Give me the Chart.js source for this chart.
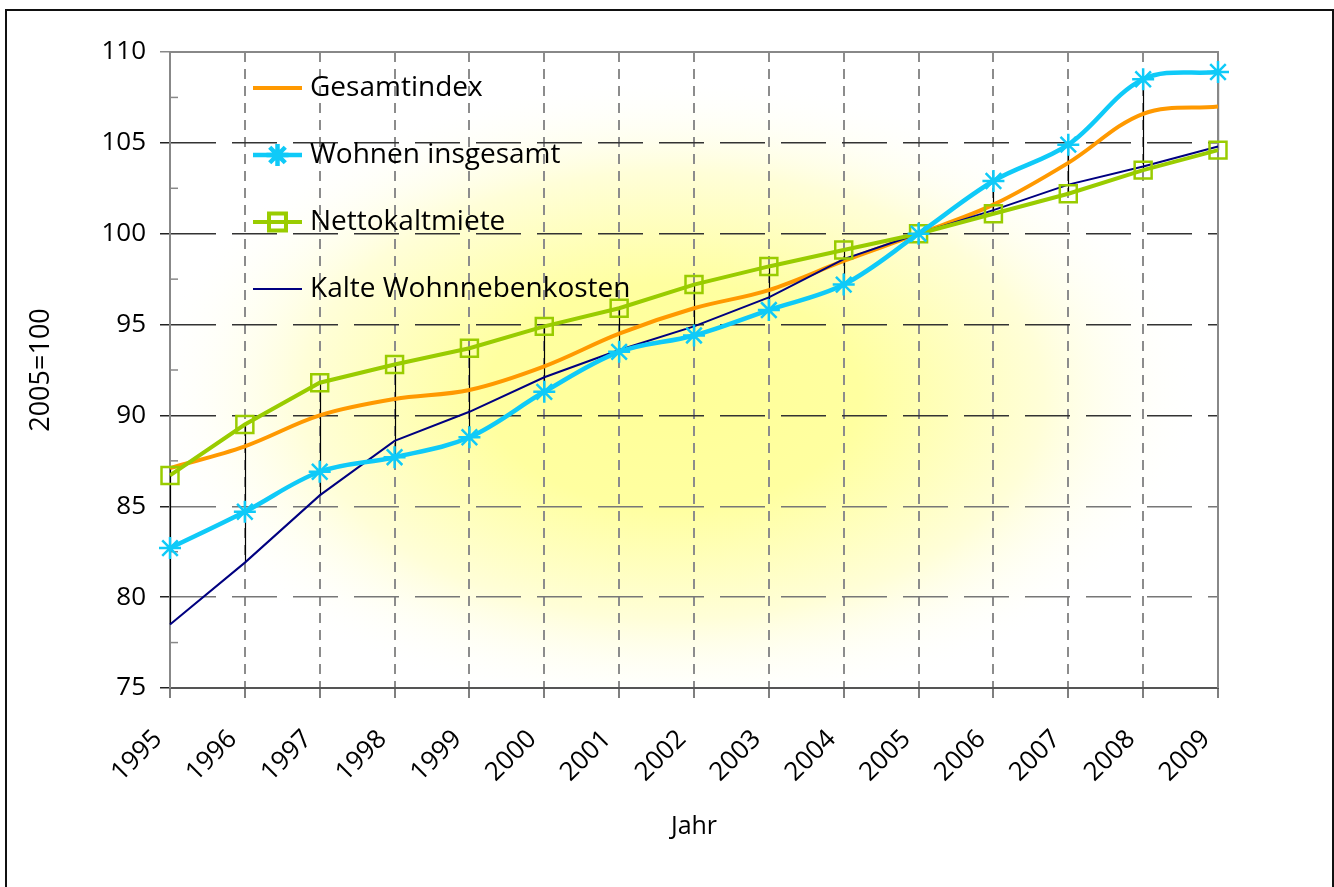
<!DOCTYPE html>
<html>
<head>
<meta charset="utf-8">
<script src="https://cdn.jsdelivr.net/npm/chart.js@4/dist/chart.umd.min.js"></script>
<style>
    html, body { margin: 0; padding: 0; background: #fff; }
    #wrap { position: relative; width: 1334px; height: 887px; overflow: hidden; }
    #frame { position: absolute; left: 5px; top: 9px; width: 1329px; height: 900px; border: 2px solid #111; box-sizing: border-box; }
    canvas { position: absolute; left: 0; top: 0; }
</style>
</head>
<body>
<div id="wrap">
    <div id="frame"></div>
    <canvas id="chart" width="1334" height="887"></canvas>
</div>
<script>
// ---- data (2005 = 100) ----
const years = ["1995", "1996", "1997", "1998", "1999", "2000", "2001", "2002",
               "2003", "2004", "2005", "2006", "2007", "2008", "2009"];
const gesamtindex      = [87.1, 88.3, 90.0, 90.9, 91.4, 92.7, 94.5, 95.9, 96.9, 98.5, 100, 101.6, 103.9, 106.6, 107.0];
const wohnenInsgesamt  = [82.7, 84.7, 86.9, 87.7, 88.8, 91.3, 93.5, 94.4, 95.8, 97.2, 100, 102.9, 104.9, 108.5, 108.9];
const nettokaltmiete   = [86.7, 89.5, 91.8, 92.8, 93.7, 94.9, 95.9, 97.2, 98.2, 99.1, 100, 101.1, 102.2, 103.5, 104.6];
const kalteNebenkosten = [78.5, 81.9, 85.6, 88.6, 90.2, 92.1, 93.6, 94.9, 96.5, 98.6, 100, 101.3, 102.7, 103.7, 104.8];
const yMin = 75, yMax = 110, yStep = 5;

const FONT = "'Open Sans', 'Noto Sans', sans-serif";

// yellow glow behind the plot
const glowPlugin = {
    id: "glow",
    beforeDraw(chart) {
        const { ctx, chartArea: a } = chart;
        ctx.save();
        ctx.beginPath();
        ctx.rect(a.left, a.top, a.right - a.left, a.bottom - a.top);
        ctx.clip();
        ctx.fillStyle = "#fff";
        ctx.fillRect(a.left, a.top, a.right - a.left, a.bottom - a.top);
        const cx = a.left + (a.right - a.left) * 0.48;
        const cy = a.top + (a.bottom - a.top) * 0.54;
        const rx = 530, ry = 320;
        ctx.translate(cx, cy);
        ctx.scale(1, ry / rx);
        const g = ctx.createRadialGradient(0, 0, 0, 0, 0, rx);
        g.addColorStop(0, "#ffff99");
        g.addColorStop(0.35, "#ffffa0");
        g.addColorStop(0.7, "#fffed8");
        g.addColorStop(1, "rgba(255,255,255,0)");
        ctx.fillStyle = g;
        ctx.fillRect(-rx, -rx, rx * 2, rx * 2);
        ctx.restore();
    }
};

// high-low lines, minor y ticks, top/right frame of the plot
const hiLoPlugin = {
    id: "hiLo",
    beforeDatasetsDraw(chart) {
        const { ctx, chartArea: a, scales } = chart;
        ctx.save();
        ctx.setLineDash([]);
        ctx.strokeStyle = "#000";
        ctx.lineWidth = 1.2;
        years.forEach(function (yr, i) {
            const vals = chart.data.datasets.map(function (ds) { return ds.data[i]; });
            const x = Math.round(scales.x.getPixelForValue(i)) + 0.5;
            ctx.beginPath();
            ctx.moveTo(x, scales.y.getPixelForValue(Math.max.apply(null, vals)));
            ctx.lineTo(x, scales.y.getPixelForValue(Math.min.apply(null, vals)));
            ctx.stroke();
        });
        // minor ticks halfway between the labelled ones
        ctx.strokeStyle = "#888";
        ctx.lineWidth = 1.5;
        for (let v = yMin + yStep / 2; v < yMax; v += yStep) {
            const y = scales.y.getPixelForValue(v);
            ctx.beginPath();
            ctx.moveTo(a.left, y);
            ctx.lineTo(a.left + 8, y);
            ctx.stroke();
        }
        ctx.lineWidth = 2;
        ctx.beginPath();
        ctx.moveTo(a.left, a.top);
        ctx.lineTo(a.right, a.top);
        ctx.lineTo(a.right, a.bottom);
        ctx.stroke();
        ctx.restore();
    }
};

// legend inside the plot, line sample + marker
const legendPlugin = {
    id: "innerLegend",
    afterDatasetsDraw(chart) {
        const { ctx, chartArea: a } = chart;
        ctx.save();
        chart.data.datasets.forEach(function (ds, row) {
            const x0 = a.left + 83, x1 = a.left + 132;
            const y = a.top + 36 + row * 67;
            ctx.strokeStyle = ds.borderColor;
            ctx.lineWidth = ds.borderWidth;
            ctx.setLineDash([]);
            ctx.beginPath();
            ctx.moveTo(x0, y);
            ctx.lineTo(x1, y);
            ctx.stroke();
            if (ds.pointRadius > 0) {
                ctx.strokeStyle = ds.pointBorderColor;
                ctx.fillStyle = ds.pointBackgroundColor;
                Chart.helpers.drawPoint(ctx, {
                    pointStyle: ds.pointStyle, radius: ds.pointRadius,
                    borderWidth: ds.pointBorderWidth, rotation: 0
                }, (x0 + x1) / 2, y);
            }
            ctx.fillStyle = "#000";
            ctx.font = "28px " + FONT;
            ctx.textBaseline = "middle";
            ctx.textAlign = "left";
            ctx.fillText(ds.label, x1 + 8, y);
        });
        ctx.restore();
    }
};

new Chart(document.getElementById("chart"), {
    type: "line",
    data: {
        labels: years,
        datasets: [
            {
                label: "Gesamtindex",
                data: gesamtindex,
                borderColor: "#ff9900",
                borderWidth: 4,
                pointRadius: 0,
                tension: 0.35,
                order: 3
            },
            {
                label: "Wohnen insgesamt",
                data: wohnenInsgesamt,
                borderColor: "#0fcaf8",
                borderWidth: 4.5,
                pointStyle: "star",
                pointRadius: 11,
                pointBorderWidth: 2.5,
                pointBorderColor: "#0fcaf8",
                pointBackgroundColor: "#0fcaf8",
                tension: 0.35,
                order: 0
            },
            {
                label: "Nettokaltmiete",
                data: nettokaltmiete,
                borderColor: "#99cc00",
                borderWidth: 4,
                pointStyle: "rect",
                pointRadius: 12,
                pointBorderWidth: 2.5,
                pointBorderColor: "#99cc00",
                pointBackgroundColor: "rgba(0,0,0,0)",
                tension: 0,
                order: 1
            },
            {
                label: "Kalte Wohnnebenkosten",
                data: kalteNebenkosten,
                borderColor: "#000080",
                borderWidth: 2,
                pointRadius: 0,
                tension: 0,
                order: 2
            }
        ]
    },
    options: {
        responsive: false,
        animation: false,
        events: [],
        layout: { padding: { left: 0, top: 52, right: 116, bottom: 0 } },
        plugins: {
            legend: { display: false },
            tooltip: { enabled: false }
        },
        scales: {
            x: {
                offset: false,
                afterFit: function (scale) { scale.height = 199; },
                grid: {
                    offset: false,
                    color: "#8c8c8c",
                    lineWidth: 2,
                    tickLength: 10,
                    tickColor: "#555",
                    tickWidth: 1.5
                },
                border: { display: true, color: "#555", width: 2, dash: [10, 7] },
                ticks: {
                    color: "#000",
                    font: { family: FONT, size: 26 },
                    minRotation: 45,
                    maxRotation: 45,
                    padding: 26,
                    labelOffset: -12
                },
                title: {
                    display: true,
                    text: "Jahr",
                    color: "#000",
                    font: { family: FONT, size: 25 },
                    padding: { top: 0, bottom: 45 }
                }
            },
            y: {
                min: yMin,
                max: yMax,
                afterFit: function (scale) { scale.width = 170; },
                grid: {
                    color: function (c) {
                        if (c.tick && c.tick.value === yMax) return "rgba(0,0,0,0)";
                        return c.tick && c.tick.value >= 90 ? "#333" : "#777";
                    },
                    lineWidth: 1.5,
                    tickLength: 10,
                    tickColor: function (c) {
                        return c.tick && c.tick.value === yMax ? "#888" : "#222";
                    },
                    tickWidth: 1.5
                },
                border: { display: true, color: "#888", width: 2, dash: [45, 16] },
                ticks: {
                    stepSize: yStep,
                    color: "#000",
                    font: { family: FONT, size: 26 },
                    padding: 14
                },
                title: {
                    display: true,
                    text: "2005=100",
                    color: "#000",
                    font: { family: FONT, size: 27 },
                    padding: { top: 25, bottom: 0 }
                }
            }
        }
    },
    plugins: [glowPlugin, hiLoPlugin, legendPlugin]
});
</script>
</body>
</html>
